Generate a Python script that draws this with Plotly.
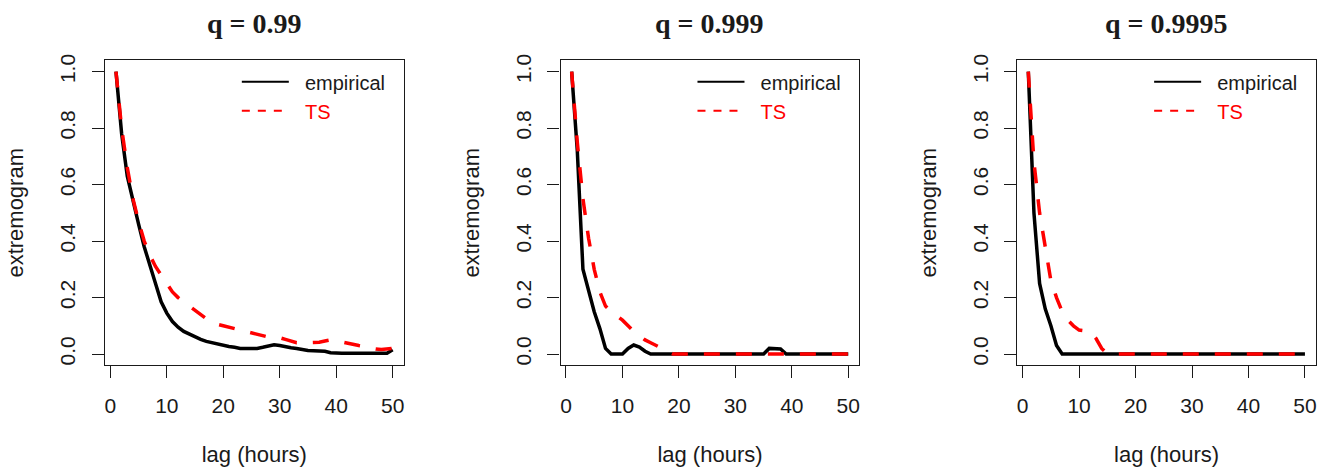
import plotly.graph_objects as go

lag = list(range(1, 51))

emp_99 = [1.0, 0.78, 0.63, 0.54, 0.46, 0.38, 0.31, 0.25, 0.185, 0.145,
          0.115, 0.095, 0.08, 0.07, 0.06, 0.052, 0.045, 0.04, 0.035, 0.03,
          0.027, 0.024, 0.02, 0.02, 0.02, 0.02, 0.024, 0.028, 0.033, 0.03,
          0.025, 0.022, 0.02, 0.015, 0.013, 0.012, 0.012, 0.01, 0.005, 0.003,
          0.003, 0.003, 0.003, 0.003, 0.003, 0.003, 0.003, 0.003, 0.003, 0.015]
ts_99 = [1.0, 0.80, 0.66, 0.55, 0.47, 0.40, 0.35, 0.31, 0.28, 0.25,
         0.22, 0.20, 0.185, 0.17, 0.155, 0.14, 0.125, 0.115, 0.105, 0.10,
         0.095, 0.09, 0.085, 0.08, 0.075, 0.07, 0.062, 0.06, 0.06, 0.058,
         0.052, 0.045, 0.04, 0.04, 0.04, 0.04, 0.042, 0.046, 0.05, 0.047,
         0.042, 0.038, 0.034, 0.03, 0.027, 0.022, 0.018, 0.016, 0.017, 0.02]

emp_999 = [1.0, 0.72, 0.30, 0.22, 0.15, 0.09, 0.02, 0.0, 0.0, 0.0,
           0.02, 0.032, 0.025, 0.01, 0.0, 0.0, 0.0, 0.0, 0.0, 0.0,
           0.0, 0.0, 0.0, 0.0, 0.0, 0.0, 0.0, 0.0, 0.0, 0.0,
           0.0, 0.0, 0.0, 0.0, 0.0, 0.02, 0.02, 0.018, 0.0, 0.0,
           0.0, 0.0, 0.0, 0.0, 0.0, 0.0, 0.0, 0.0, 0.0, 0.0]
ts_999 = [1.0, 0.75, 0.55, 0.41, 0.30, 0.22, 0.17, 0.15, 0.135, 0.12,
          0.10, 0.08, 0.065, 0.05, 0.04, 0.03, 0.02, 0.01, 0.0, 0.0,
          0.0, 0.0, 0.0, 0.0, 0.0, 0.0, 0.0, 0.0, 0.0, 0.0,
          0.0, 0.0, 0.0, 0.0, 0.0, 0.0, 0.0, 0.0, 0.0, 0.0,
          0.0, 0.0, 0.0, 0.0, 0.0, 0.0, 0.0, 0.0, 0.0, 0.0]

emp_9995 = [1.0, 0.50, 0.25, 0.16, 0.10, 0.03, 0.0, 0.0, 0.0, 0.0,
            0.0, 0.0, 0.0, 0.0, 0.0, 0.0, 0.0, 0.0, 0.0, 0.0,
            0.0, 0.0, 0.0, 0.0, 0.0, 0.0, 0.0, 0.0, 0.0, 0.0,
            0.0, 0.0, 0.0, 0.0, 0.0, 0.0, 0.0, 0.0, 0.0, 0.0,
            0.0, 0.0, 0.0, 0.0, 0.0, 0.0, 0.0, 0.0, 0.0, 0.0]
ts_9995 = [1.0, 0.68, 0.50, 0.37, 0.26, 0.20, 0.15, 0.12, 0.10, 0.085,
           0.083, 0.08, 0.055, 0.02, 0.0, 0.0, 0.0, 0.0, 0.0, 0.0,
           0.0, 0.0, 0.0, 0.0, 0.0, 0.0, 0.0, 0.0, 0.0, 0.0,
           0.0, 0.0, 0.0, 0.0, 0.0, 0.0, 0.0, 0.0, 0.0, 0.0,
           0.0, 0.0, 0.0, 0.0, 0.0, 0.0, 0.0, 0.0, 0.0, 0.0]

titles = ["q = 0.99", "q = 0.999", "q = 0.9995"]
empirical = [emp_99, emp_999, emp_9995]
ts_model = [ts_99, ts_999, ts_9995]

x_ticks = [0, 10, 20, 30, 40, 50]
y_ticks = [0.0, 0.2, 0.4, 0.6, 0.8, 1.0]
y_ticktext = ["0.0", "0.2", "0.4", "0.6", "0.8", "1.0"]

W, H = 1328, 470
box_left = [105, 561, 1018]
box_width = 299
box_top, box_bottom = 55, 364

SANS = "Liberation Sans, Arial, sans-serif"
SERIF = "Liberation Serif, Times New Roman, serif"
INK = "#1a1a1a"
RED = "#ff0000"

fig = go.Figure()
legend_names = ["legend", "legend2", "legend3"]

for i in range(3):
    xa = "x" if i == 0 else f"x{i+1}"
    ya = "y" if i == 0 else f"y{i+1}"
    fig.add_trace(go.Scatter(x=lag, y=empirical[i], mode="lines", xaxis=xa, yaxis=ya,
                             line=dict(color="black", width=3.5), showlegend=False,
                             name="empirical"))
    fig.add_trace(go.Scatter(x=lag, y=ts_model[i], mode="lines", xaxis=xa, yaxis=ya,
                             line=dict(color=RED, width=3.5, dash="16px,16px"),
                             showlegend=False, name="TS"))
    # legend entries (thin lines as in the reference legend)
    fig.add_trace(go.Scatter(x=[None], y=[None], mode="lines", xaxis=xa, yaxis=ya,
                             line=dict(color="black", width=2),
                             name="&nbsp;&nbsp;empirical",
                             legend=legend_names[i]))
    fig.add_trace(go.Scatter(x=[None], y=[None], mode="lines", xaxis=xa, yaxis=ya,
                             line=dict(color=RED, width=2, dash="8px,8px"),
                             name=f"&nbsp;&nbsp;<span style='color:{RED}'>TS</span>",
                             legend=legend_names[i]))

    xd = [box_left[i] / W, (box_left[i] + box_width) / W]
    yd = [1 - box_bottom / H, 1 - box_top / H]
    axis_common = dict(showline=True, mirror=True, linecolor=INK, linewidth=1.2,
                       ticks="outside", ticklen=12, tickwidth=1.2, tickcolor=INK,
                       showgrid=False, zeroline=False,
                       tickfont=dict(family=SANS, size=21, color=INK))
    fig.update_layout(**{
        ("xaxis" if i == 0 else f"xaxis{i+1}"): dict(
            domain=xd, range=[-0.96, 51.96], tickvals=x_ticks,
            anchor=ya, ticklabelstandoff=9,
            title=dict(text="lag (hours)", font=dict(family=SANS, size=22, color=INK), standoff=30),
            **axis_common),
        ("yaxis" if i == 0 else f"yaxis{i+1}"): dict(
            domain=yd, range=[-0.04, 1.04], tickvals=y_ticks, ticktext=y_ticktext,
            tickangle=-90, anchor=xa, ticklabelstandoff=8,
            title=dict(text="extremogram", font=dict(family=SANS, size=22, color=INK), standoff=26),
            **axis_common),
        legend_names[i]: dict(
            x=(box_left[i] + 132) / W, y=1 - 57 / H, xanchor="left", yanchor="top",
            bgcolor="rgba(0,0,0,0)", borderwidth=0, itemwidth=47,
            tracegroupgap=0,
            font=dict(family=SANS, size=20, color=INK)),
    })
    fig.add_annotation(text=f"<b>{titles[i]}</b>", xref=f"{xa} domain", yref="paper",
                       x=0.5, y=1 - 18 / H, xanchor="center", yanchor="middle",
                       showarrow=False, font=dict(family=SERIF, size=28, color=INK))

fig.update_layout(
    width=W, height=H, margin=dict(l=0, r=0, t=0, b=0),
    paper_bgcolor="white", plot_bgcolor="white",
)

fig.write_html("out.html")
